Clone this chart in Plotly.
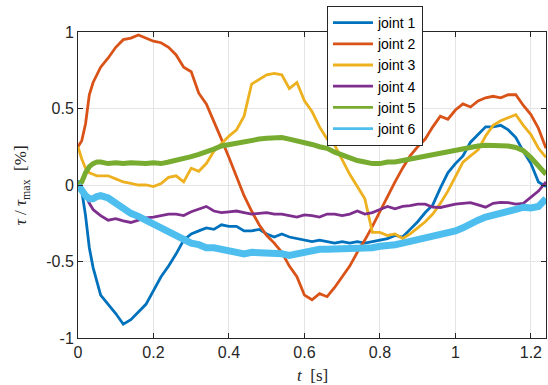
import plotly.graph_objects as go

t = [0, 0.01, 0.02, 0.03, 0.04, 0.05, 0.06, 0.08, 0.10, 0.12, 0.14, 0.16, 0.18, 0.20,
     0.22, 0.24, 0.26, 0.28, 0.30, 0.32, 0.34, 0.36, 0.38, 0.40, 0.42, 0.44, 0.46, 0.48,
     0.50, 0.52, 0.54, 0.56, 0.58, 0.60, 0.62, 0.64, 0.66, 0.68, 0.70, 0.72, 0.74, 0.76,
     0.78, 0.80, 0.82, 0.84, 0.86, 0.88, 0.90, 0.92, 0.94, 0.96, 0.98, 1.00, 1.02, 1.04,
     1.06, 1.08, 1.10, 1.12, 1.14, 1.16, 1.18, 1.20, 1.22, 1.24]

joint1 = [0.03, -0.04, -0.20, -0.41, -0.54, -0.64, -0.72, -0.78, -0.84, -0.91, -0.88, -0.83,
          -0.78, -0.69, -0.60, -0.53, -0.45, -0.36, -0.32, -0.30, -0.28, -0.29, -0.26, -0.27,
          -0.27, -0.30, -0.30, -0.29, -0.32, -0.34, -0.32, -0.34, -0.35, -0.36, -0.37, -0.36,
          -0.37, -0.38, -0.37, -0.38, -0.37, -0.38, -0.37, -0.36, -0.35, -0.33, -0.34, -0.29,
          -0.24, -0.18, -0.13, -0.02, 0.08, 0.14, 0.19, 0.28, 0.33, 0.38, 0.38, 0.39, 0.36,
          0.31, 0.22, 0.14, 0.02, -0.01]

joint2 = [0.25, 0.29, 0.40, 0.59, 0.67, 0.72, 0.77, 0.83, 0.90, 0.95, 0.96, 0.98, 0.96, 0.94,
          0.93, 0.90, 0.85, 0.77, 0.74, 0.60, 0.53, 0.42, 0.30, 0.18, 0.05, -0.07, -0.17,
          -0.26, -0.33, -0.38, -0.44, -0.53, -0.60, -0.72, -0.75, -0.71, -0.73, -0.67, -0.60,
          -0.53, -0.44, -0.36, -0.27, -0.17, -0.08, 0.02, 0.11, 0.19, 0.25, 0.30, 0.38, 0.45,
          0.43, 0.49, 0.53, 0.51, 0.55, 0.57, 0.58, 0.57, 0.59, 0.59, 0.52, 0.46, 0.37, 0.24]

joint3 = [0.25, 0.17, 0.11, 0.08, 0.07, 0.06, 0.06, 0.06, 0.04, 0.02, 0.01, 0.00, 0.00, -0.01,
          0.01, 0.05, 0.06, 0.02, 0.11, 0.09, 0.14, 0.22, 0.27, 0.32, 0.36, 0.45, 0.66, 0.69,
          0.72, 0.73, 0.72, 0.63, 0.67, 0.55, 0.48, 0.38, 0.30, 0.26, 0.16, 0.07, -0.01, -0.09,
          -0.31, -0.31, -0.33, -0.32, -0.35, -0.32, -0.28, -0.24, -0.19, -0.12, -0.04, 0.06,
          0.15, 0.19, 0.23, 0.32, 0.39, 0.42, 0.44, 0.46, 0.39, 0.33, 0.24, 0.18]

joint4 = [0.01, -0.03, -0.07, -0.12, -0.16, -0.18, -0.20, -0.23, -0.22, -0.235, -0.245, -0.23,
          -0.215, -0.21, -0.20, -0.19, -0.19, -0.20, -0.175, -0.155, -0.14, -0.17, -0.18,
          -0.175, -0.17, -0.18, -0.19, -0.185, -0.18, -0.19, -0.19, -0.20, -0.21, -0.195,
          -0.20, -0.21, -0.19, -0.19, -0.20, -0.19, -0.17, -0.19, -0.18, -0.16, -0.14, -0.155,
          -0.14, -0.135, -0.125, -0.125, -0.145, -0.147, -0.135, -0.125, -0.12, -0.115, -0.13,
          -0.145, -0.12, -0.114, -0.115, -0.125, -0.12, -0.08, -0.04, 0.02]

joint5 = [0.0, 0.02, 0.08, 0.12, 0.14, 0.15, 0.15, 0.14, 0.145, 0.14, 0.145, 0.14, 0.14, 0.145,
          0.14, 0.15, 0.16, 0.17, 0.185, 0.20, 0.215, 0.235, 0.255, 0.265, 0.275, 0.285, 0.295,
          0.30, 0.305, 0.31, 0.31, 0.30, 0.29, 0.28, 0.265, 0.25, 0.24, 0.215, 0.195, 0.175,
          0.16, 0.15, 0.14, 0.14, 0.15, 0.15, 0.16, 0.165, 0.175, 0.185, 0.20, 0.21, 0.22,
          0.23, 0.24, 0.25, 0.255, 0.26, 0.26, 0.26, 0.255, 0.245, 0.225, 0.18, 0.12, 0.07]

joint6 = [0.0, -0.04, -0.07, -0.09, -0.09, -0.075, -0.07, -0.085, -0.12, -0.155, -0.185, -0.205,
          -0.23, -0.255, -0.28, -0.30, -0.33, -0.35, -0.38, -0.39, -0.41, -0.41, -0.42, -0.43,
          -0.44, -0.45, -0.44, -0.44, -0.44, -0.44, -0.45, -0.46, -0.45, -0.43, -0.43, -0.42,
          -0.42, -0.42, -0.42, -0.42, -0.42, -0.41, -0.41, -0.40, -0.40, -0.39, -0.38, -0.37,
          -0.36, -0.35, -0.33, -0.32, -0.32, -0.30, -0.28, -0.25, -0.23, -0.21, -0.20, -0.185,
          -0.175, -0.16, -0.145, -0.15, -0.14, -0.09]

names = ["joint 1", "joint 2", "joint 3", "joint 4", "joint 5", "joint 6"]
colors = ["#0072BD", "#D95319", "#EDB120", "#7E2F8E", "#77AC30", "#4DBEEE"]
widths = [2.8, 2.8, 2.8, 2.8, 5, 7]
series = [joint1, joint2, joint3, joint4, joint5, joint6]

fig = go.Figure()
for name, ys, c, w in zip(names, series, colors, widths):
    fig.add_trace(go.Scatter(x=t, y=ys, mode="lines", name=name, showlegend=False,
                             legendgroup=name, line=dict(color=c, width=w)))
# legend samples drawn with the uniform MATLAB legend line width
for name, c in zip(names, colors):
    fig.add_trace(go.Scatter(x=[None], y=[None], mode="lines", name=name,
                             legendgroup=name, line=dict(color=c, width=2.8)))

axis_common = dict(
    showline=True, linecolor="#262626", linewidth=1, mirror="allticks",
    ticks="inside", ticklen=5, tickcolor="#262626",
    showgrid=True, gridcolor="#e5e5e5", gridwidth=1, zeroline=False,
    tickfont=dict(family="Liberation Sans, Arial, sans-serif", size=16, color="#262626"),
)

fig.update_layout(
    width=548, height=385,
    margin=dict(l=78, r=2, t=32, b=47, autoexpand=False),
    paper_bgcolor="white", plot_bgcolor="white",
    xaxis=dict(range=[0, 1.24], tickvals=[0, 0.2, 0.4, 0.6, 0.8, 1, 1.2],
               ticktext=["0", "0.2", "0.4", "0.6", "0.8", "1", "1.2"], **axis_common),
    yaxis=dict(range=[-1, 1], tickvals=[-1, -0.5, 0, 0.5, 1],
               ticktext=["-1", "-0.5", "0", "0.5", "1"], **axis_common),
    showlegend=True,
    legend=dict(x=0.532, y=1.085, xanchor="left", yanchor="top",
                bgcolor="white", bordercolor="#262626", borderwidth=1,
                font=dict(family="Liberation Sans, Arial, sans-serif", size=14, color="#000"),
                itemwidth=40, tracegroupgap=0),
    annotations=[
        dict(text="<i>t</i>  [s]", xref="paper", yref="paper", x=0.5, y=-0.121,
             xanchor="center", yanchor="middle", showarrow=False,
             font=dict(family="Liberation Serif, Times New Roman, serif", size=17, color="#262626")),
        dict(text="<i>τ</i> / <i>τ</i><sub>max</sub>  [%]", xref="paper", yref="paper",
             x=-0.119, y=0.5, xanchor="center", yanchor="middle", textangle=-90,
             showarrow=False,
             font=dict(family="Liberation Serif, Times New Roman, serif", size=17, color="#262626")),
    ],
)

fig.write_html("out.html", config={"displayModeBar": False},
               post_script="document.body.style.margin='0px';document.body.style.overflow='hidden';")
